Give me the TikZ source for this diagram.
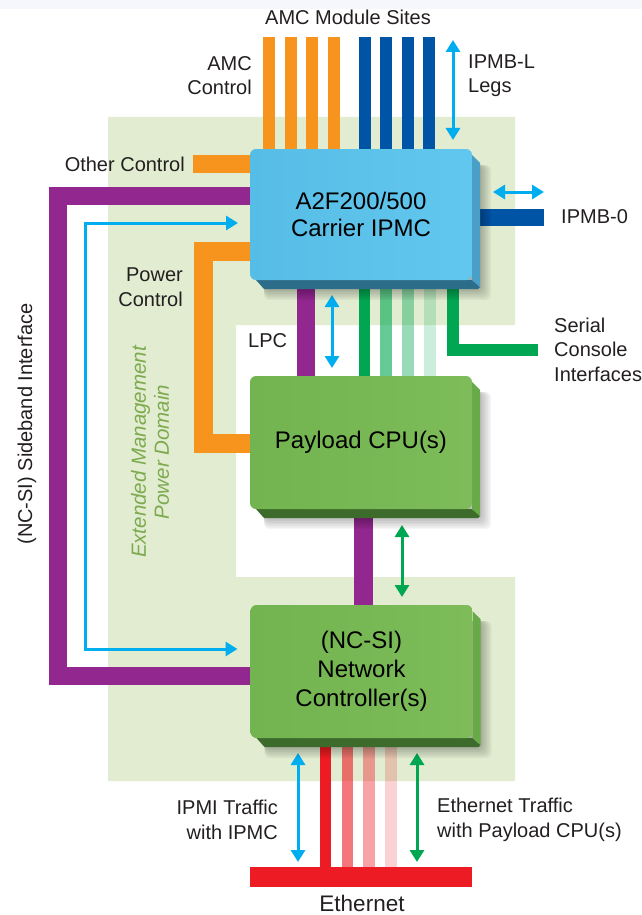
\documentclass[tikz,border=0pt]{standalone}
\usepackage{fontspec}
\setmainfont{Liberation Sans}
\usetikzlibrary{arrows.meta,calc}
\definecolor{cOrange}{HTML}{F7941D}
\definecolor{cDarkBlue}{HTML}{0054A6}
\definecolor{cCyan}{HTML}{00AEEF}
\definecolor{cPurple}{HTML}{92278F}
\definecolor{cGreen}{HTML}{00A651}
\definecolor{cRed}{HTML}{ED1C24}
\definecolor{cArea}{HTML}{E1ECD0}
\definecolor{cDomain}{HTML}{7DAA4F}
\definecolor{cTop}{HTML}{F5F7FC}
\definecolor{cLabel}{HTML}{231F20}
\definecolor{ipmcFaceA}{HTML}{56BDE6}
\definecolor{ipmcFaceB}{HTML}{62C7EE}
\definecolor{ipmcSide}{HTML}{4A9FC6}
\definecolor{ipmcBottom}{HTML}{2C6D8A}
\definecolor{grnFaceA}{HTML}{72B44F}
\definecolor{grnFaceB}{HTML}{7DBC59}
\definecolor{grnSide}{HTML}{68AA48}
\definecolor{grnBottom}{HTML}{3D6B2B}
\pgfdeclarelayer{area}
\pgfdeclarelayer{lines}
\pgfdeclarelayer{ext}
\pgfsetlayers{area,lines,ext,main}
\newcommand\extrudebox[3]{%
\begin{pgfonlayer}{ext}
\foreach \k in {1,...,7}{
\fill[black,opacity=0.04,rounded corners=6] ($(#1.north west)+(14,16)$) rectangle ($(#1.south east)+(8+\k*1.6,9+\k*1.6)$);}
\fill[#3] ($(#1.south west)+(6,0)$) -- ($(#1.south west)+(14,9)$) -- ($(#1.south east)+(6,9)$) -- ($(#1.south east)+(8,7)$) -- (#1.south east) -- cycle;
\fill[#2] ($(#1.north east)+(0,6)$) -- ($(#1.north east)+(8,14)$) -- ($(#1.south east)+(8,7)$) -- (#1.south east) -- cycle;
\end{pgfonlayer}}
\begin{document}
\begin{tikzpicture}[x=1pt,y=-1pt,
  lbl/.style={font=\fontsize{20}{24.5}\selectfont, text=cLabel, inner sep=0pt},
  blockbox/.style={rectangle, rounded corners=6pt, minimum width=222pt, minimum height=132pt, outer sep=0pt, inner sep=0pt, align=center, text=black},
  bus/.style={line width=#1},
  arr/.style={line width=3pt, {Triangle[length=12pt,width=14pt]}-{Triangle[length=12pt,width=14pt]}}
]
\useasboundingbox (0,0) rectangle (642,915);
\fill[cTop] (0,0) rectangle (642,9);

% boxes
\node[blockbox, left color=ipmcFaceA, right color=ipmcFaceB, font=\fontsize{24}{27}\selectfont, minimum height=131pt] (ipmc) at (361,214.5) {A2F200/500\\Carrier IPMC};
\node[blockbox, left color=grnFaceA, right color=grnFaceB, font=\fontsize{24}{28}\selectfont, minimum height=133pt] (cpu) at (361,442.5) {Payload CPU(s)};
\node[blockbox, left color=grnFaceA, right color=grnFaceB, font=\fontsize{24}{29}\selectfont, minimum height=133pt] (nc) at (361.5,671.5) {(NC-SI)\\Network\\Controller(s)};
\node[rectangle, fill=cRed, minimum width=222pt, minimum height=20pt, inner sep=0pt, outer sep=0pt] (eth) at (361,877) {};
\extrudebox{ipmc}{ipmcSide}{ipmcBottom}
\extrudebox{cpu}{grnSide}{grnBottom}
\extrudebox{nc}{grnSide}{grnBottom}

% domain area
\begin{pgfonlayer}{area}
\fill[cArea] (108,117) -- (515,117) -- (515,325) -- (236,325) -- (236,577) -- (515,577) -- (515,781) -- (108,781) -- cycle;
\end{pgfonlayer}

% coordinates
\foreach \x [count=\i] in {269,291,312,334} \coordinate (amc\i) at (\x,37);
\foreach \x [count=\i] in {365,386,408,429} \coordinate (ipmbl\i) at (\x,37);
\coordinate (legT) at (453,40);
\coordinate (legB) at (453,140);
\coordinate (oc) at (193,164);
\coordinate (sbA) at (57.5,196);
\coordinate (sbB) at (57.5,675.5);
\coordinate (saA) at (85,223);
\coordinate (saB) at (85,649);
\coordinate (pcA) at (203.5,251);
\coordinate (pcB) at (203.5,443.5);
\coordinate (lpc) at (305.5,300);
\coordinate (lpcT) at (332,295);
\coordinate (lpcB) at (332,368);
\foreach \x [count=\i] in {364.5,386,408,430} \coordinate (sc\i) at (\x,300);
\coordinate (scc) at (453,349.5);
\coordinate (sce) at (538,349.5);
\coordinate (ipmb0) at (544,217.5);
\coordinate (ipA) at (493,192);
\coordinate (ipB) at (544,192);
\coordinate (mid) at (363.5,560);
\coordinate (midT) at (402,525);
\coordinate (midB) at (402,597);
\foreach \x [count=\i] in {325.5,347.5,369,391} \coordinate (et\i) at (\x,800);
\coordinate (ipmiT) at (298,753);
\coordinate (ipmiB) at (298,862);
\coordinate (ethT) at (417,753);
\coordinate (ethB) at (417,862);

\begin{pgfonlayer}{lines}
\foreach \i in {1,...,4} \draw[bus=12pt, cOrange] (amc\i) -- (amc\i |- ipmc.north);
\foreach \i in {1,...,4} \draw[bus=12pt, cDarkBlue] (ipmbl\i) -- (ipmbl\i |- ipmc.north);
\draw[arr, cCyan] (legT) -- (legB);
\draw[bus=18pt, cOrange] (oc) -- (oc -| ipmc.west);
\draw[bus=18pt, cPurple] (sbA -| ipmc.west) -- (sbA) -- (sbB) -- (sbB -| nc.west);
\draw[arr, cCyan] ($(saA -| ipmc.west)+(-12,0)$) -- (saA) -- (saB) -- ($(saB -| nc.west)+(-13,0)$);
\draw[bus=19pt, cOrange] (pcA -| ipmc.west) -- (pcA) -- (pcB) -- (pcB -| cpu.west);
\draw[bus=18pt, cPurple] (lpc |- ipmc.south) -- (lpc |- cpu.north);
\draw[arr, cCyan] (lpcT) -- (lpcB);
\foreach \i/\o in {1/1,2/0.6,3/0.4,4/0.2} \draw[bus=11.5pt, cGreen, opacity=\o] (sc\i |- ipmc.south) -- (sc\i |- cpu.north);
\draw[bus=12pt, cGreen] (scc |- ipmc.south) -- (scc) -- (sce);
\draw[bus=17pt, cDarkBlue] (ipmc.east |- ipmb0) -- (ipmb0);
\draw[arr, cCyan] (ipA) -- (ipB);
\draw[bus=19pt, cPurple] (mid |- cpu.south) -- (mid |- nc.north);
\draw[arr, cGreen] (midT) -- (midB);
\foreach \i/\o in {1/1,2/0.6,3/0.4,4/0.2} \draw[bus=11.5pt, cRed, opacity=\o] (et\i |- nc.south) -- (et\i |- eth.north);
\draw[arr, cCyan] (ipmiT) -- (ipmiB);
\draw[arr, cGreen] (ethT) -- (ethB);
\end{pgfonlayer}

% labels
\node[lbl] (tAMCsites) at (348,17) {AMC Module Sites};
\node[lbl, anchor=east, align=right] (tAMCctl) at (252,75.5) {AMC\\Control};
\node[lbl, anchor=west, align=left] (tLegs) at (468,75.5) {IPMB-L\\Legs};
\node[lbl, anchor=east] (tOther) at (185,164) {Other Control};
\node[lbl, anchor=east, align=right] (tPower) at (183,287) {Power\\Control};
\node[lbl, anchor=west] (tLPC) at (248,341) {LPC};
\node[lbl, anchor=west, align=left] (tSerial) at (554,349.5) {Serial\\Console\\Interfaces};
\node[lbl, anchor=west] (tIPMB0) at (561,217) {IPMB-0};
\node[lbl, rotate=90] (tSide) at (27,424) {(NC-SI) Sideband Interface};
\node[lbl, rotate=90, align=center, text=cDomain, font=\fontsize{20.5}{23}\selectfont\itshape] (tDomain) at (150,452) {Extended Management\\Power Domain};
\node[lbl, anchor=east, align=right] (tIPMI) at (278,820) {IPMI Traffic\\with IPMC};
\node[lbl, anchor=west, align=left] (tEthTr) at (437,820) {Ethernet Traffic\\with Payload CPU(s)};
\node[lbl, font=\fontsize{22.5}{27}\selectfont] (tEth) at (362,903) {Ethernet};
\end{tikzpicture}
\end{document}
